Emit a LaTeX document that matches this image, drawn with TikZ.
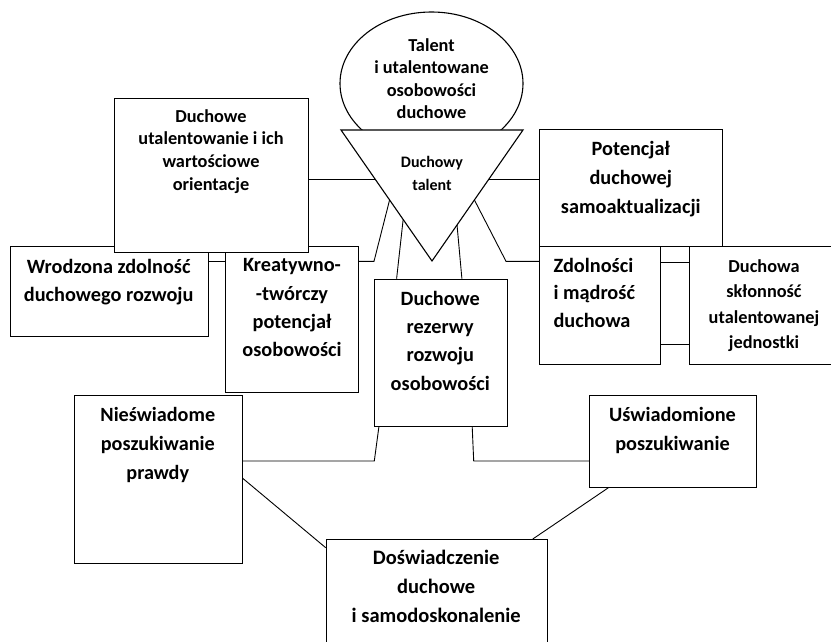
\documentclass[tikz,border=0pt]{standalone}
\usepackage{fontspec}
\setmainfont{Carlito}
\usetikzlibrary{calc,shapes.geometric}

\tikzset{
  box/.style={draw, line width=1.1pt, fill=white, anchor=north west, inner sep=0pt},
  txt/.style={font=\bfseries\fontsize{20.3}{28.3}\selectfont, align=center, anchor=base, inner sep=0pt},
  link/.style={line width=0.9pt},
}

\begin{document}
\begin{tikzpicture}[x=1pt,y=-1pt]
  \useasboundingbox (0,0) rectangle (831,642);
  % talent na gorze
  \node[draw, ellipse, line width=1.1pt, minimum width=183pt, minimum height=143pt] (tal) at (431.5,83.5) {};
  \coordinate (tA) at (341,130);
  \coordinate (tB) at (523,130);
  \coordinate (tC) at (432,261);
  \filldraw[fill=white, line width=1.1pt] (tA) -- (tB) -- (tC) -- cycle;
  \node[txt, font=\bfseries\fontsize{18.3}{22.2}\selectfont] (talT) at (431.5,118.3) {Talent\\i utalentowane\\osobowości\\duchowe};
  \node[txt, font=\bfseries\fontsize{16}{23}\selectfont] (triT) at (432,190) {Duchowy\\talent};

  % punkty na bokach trojkata
  \coordinate (t1) at ($(tA)!0.374!(tC)$);
  \coordinate (t2) at ($(tA)!0.534!(tC)$);
  \coordinate (t3) at ($(tA)!0.683!(tC)$);
  \coordinate (t4) at ($(tB)!0.725!(tC)$);
  \coordinate (t5) at ($(tB)!0.534!(tC)$);
  \coordinate (t6) at ($(tB)!0.374!(tC)$);

  % prostokaty
  \node[box, minimum width=198.5pt, minimum height=90pt] (wr) at (9.5,245.7) {};
  \node[box, minimum width=132.7pt, minimum height=146.3pt] (kr) at (225,245.7) {};
  \node[box, minimum width=194pt, minimum height=154pt] (ut) at (114,98) {};
  \node[box, minimum width=132.7pt, minimum height=147pt] (rez) at (374,278.7) {};
  \node[box, minimum width=183pt, minimum height=116.7pt] (pot) at (539.3,129) {};
  \node[box, minimum width=120.7pt, minimum height=118.3pt] (zd) at (539.3,245.7) {};
  \node[box, minimum width=150pt, minimum height=118pt] (skl) at (689.3,245.5) {};
  \node[box, minimum width=167.6pt, minimum height=168pt] (nies) at (74,394.7) {};
  \node[box, minimum width=166.3pt, minimum height=92pt] (usw) at (589.3,394.7) {};
  \node[box, minimum width=221pt, minimum height=120pt] (dos) at (325.7,539) {};

  % napisy
  \node[txt, font=\bfseries\fontsize{18.3}{22.6}\selectfont] (utT) at (211,190) {Duchowe\\utalentowanie i ich\\wartościowe\\orientacje};
  \node[txt, font=\bfseries\fontsize{20.3}{28}\selectfont] (wrT) at (108.7,301.7) {Wrodzona zdolność\\duchowego rozwoju};
  \node[txt] (krT) at (292,356.7) {Kreatywno-\\-twórczy\\potencjał\\osobowości};
  \node[txt] (rezT) at (440.3,390) {Duchowe\\rezerwy\\rozwoju\\osobowości};
  \node[txt, font=\bfseries\fontsize{20.3}{29}\selectfont] (potT) at (630.8,213.3) {Potencjał\\duchowej\\samoaktualizacji};
  \node[txt, align=left, anchor=base west, font=\bfseries\fontsize{20.3}{27.5}\selectfont] (zdT) at (553.3,327.3) {Zdolności\\i mądrość\\duchowa};
  \node[txt, font=\bfseries\fontsize{18.3}{25.2}\selectfont] (sklT) at (764,348.3) {Duchowa\\skłonność\\utalentowanej\\jednostki};
  \node[txt, font=\bfseries\fontsize{20.2}{28.8}\selectfont] (niesT) at (157.8,479.3) {Nieświadome\\poszukiwanie\\prawdy};
  \node[txt, font=\bfseries\fontsize{20.3}{29}\selectfont] (uswT) at (672.5,450) {Uświadomione\\poszukiwanie};
  \node[txt, font=\bfseries\fontsize{20.5}{28.7}\selectfont] (dosT) at (436.2,622.3) {Doświadczenie\\duchowe\\i samodoskonalenie};

  % poziomy i zalamania polaczen
  \coordinate (k1) at (216,261.7);
  \coordinate (k2) at (374,261.3);
  \coordinate (k3) at (506,261.3);
  \coordinate (k4) at (674,262.3);
  \coordinate (k5) at (674,344);
  \coordinate (k6) at (374.3,461);
  \coordinate (k7) at (473.7,461);

  % polaczenia
  \draw[link] (ut.east |- t1) -- (t1);
  \draw[link] (pot.west |- t6) -- (t6);
  \draw[link] (kr.east |- k2) -- (k2) -- (t2);
  \draw[link] (t5) -- (k3) -- (zd.west |- k3);
  \draw[link] ([xshift=-44.3pt]rez.north) -- (t3);
  \draw[link] ([xshift=21pt]rez.north) -- (t4);
  \draw[link] (wr.east |- k1) -- (kr.west |- k1);
  \draw[link] (zd.east |- k4) -- (skl.west |- k4);
  \draw[link] (zd.east |- k5) -- (skl.west |- k5);
  \draw[link] (nies.east |- k6) -- (k6) -- ([xshift=-62pt]rez.south);
  \draw[link] ([xshift=31.3pt]rez.south) -- (k7) -- (usw.west |- k7);
  \draw[link] ([yshift=-83.6pt]nies.north east) -- ([yshift=-8.7pt]dos.north west);
  \draw[link] ([xshift=19pt]usw.south west) -- ([xshift=-15pt]dos.north east);
\end{tikzpicture}
\end{document}
